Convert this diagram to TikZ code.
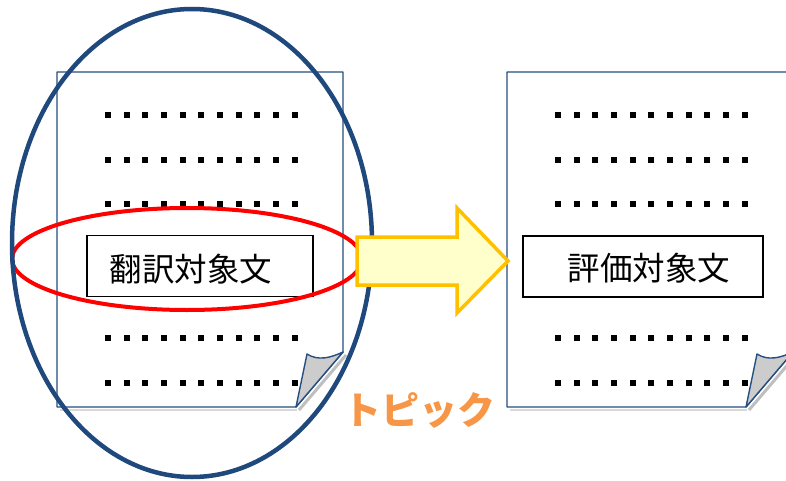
\documentclass[tikz,border=0pt]{standalone}
\usepackage{fontspec}
\newfontfamily\jpfont{Noto Sans CJK JP}
\definecolor{pageblue}{RGB}{37,78,130}
\definecolor{ellblue}{RGB}{31,73,125}
\definecolor{arrowgold}{RGB}{255,192,0}
\definecolor{arrowfill}{RGB}{255,255,204}
\definecolor{topicorange}{RGB}{247,150,70}
\tikzset{
  pageline/.style={draw=pageblue, line width=1.4pt, line join=round},
  flap/.style={draw=pageblue, fill=black!20, line width=1.4pt, line join=round},
  dotsq/.style={fill=black},
  textbox/.style={draw=black, line width=1.6pt, minimum width=226pt, minimum height=61pt, inner sep=0pt},
  boxtext/.style={font=\jpfont\fontsize{32.5}{32.5}\selectfont, inner sep=0pt},
}
\newcommand\docpage{%
  \fill[white] (57,72) -- (343,72) -- (343,352) -- (296,407) -- (57,407) -- cycle;
  \draw[black!25, line width=3pt] (299,410) -- (346,355);
  \draw[black!15, line width=2pt] (60,409.5) -- (297,409.5);
  \draw[pageline] (57,72) -- (343,72) -- (343,352) -- (296,407) -- (57,407) -- cycle;
  \draw[flap] (296,407) -- (307,354) .. controls (318,361) and (330,358) .. (343,352) -- cycle;
  \foreach \yy in {115,160,204,338,383}{
    \foreach \i in {0,...,10}{
      \fill[dotsq] ({105+18.65*\i},\yy-3) rectangle ++(6,6);
    }
  }
}
\begin{document}
\begin{tikzpicture}[x=1pt,y=-1pt]
\useasboundingbox (0,0) rectangle (786,481);
\clip (0,0) rectangle (786,481);
\fill[white] (0,0) rectangle (786,481);
\docpage
\begin{scope}[xshift=450pt]
\docpage
\end{scope}
\node[textbox] (srcbox) at (200,266) {};
\node[boxtext] (srctext) at (191,269) {翻訳対象文};
\node[textbox, minimum width=240pt] (evalbox) at (643,266.5) {};
\node[boxtext] (evaltext) at (649,268) {評価対象文};
\draw[red, line width=4pt] (187,259) ellipse [x radius=175, y radius=51];
\draw[ellblue, line width=4.5pt] (192,243) ellipse [x radius=180, y radius=234];
\draw[arrowgold, fill=arrowfill, line width=3.5pt, line join=miter]
  (357,237) -- (457,237) -- (457,208) -- (508,261) -- (457,313) -- (457,285) -- (357,285) -- cycle;
\node[font=\jpfont\bfseries\fontsize{38}{38}\selectfont, text=topicorange, inner sep=0pt] (topic) at (419,410) {トピック};
\end{tikzpicture}
\end{document}
